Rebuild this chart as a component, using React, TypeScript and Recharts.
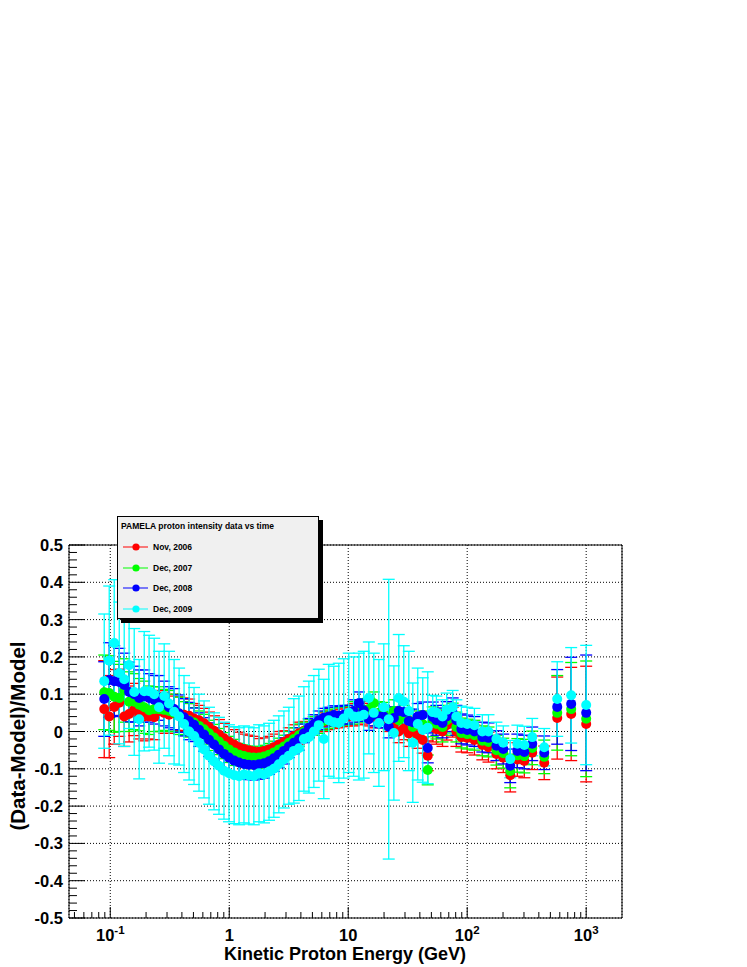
import React from 'react';
import {
  ScatterChart,
  Scatter,
  XAxis,
  YAxis,
  CartesianGrid,
  ErrorBar,
  ReferenceLine,
} from 'recharts';

// kinetic energy of each bin (GeV)
const energies = [
  0.089, 0.098, 0.108, 0.119, 0.131, 0.144, 0.159, 0.175, 0.193, 0.212,
  0.234, 0.257, 0.284, 0.312, 0.344, 0.379, 0.417, 0.46, 0.506, 0.557,
  0.614, 0.676, 0.745, 0.82, 0.903, 0.995, 1.1, 1.21, 1.33, 1.46,
  1.61, 1.78, 1.96, 2.16, 2.37, 2.61, 2.88, 3.17, 3.49, 3.85,
  4.24, 4.67, 5.14, 5.66, 6.23, 6.86, 7.56, 8.33, 9.17, 10.1,
  11.1, 12.3, 13.5, 14.9, 16.4, 18.1, 19.9, 21.9, 24.2, 26.6,
  29.3, 32.3, 34.9, 38.4, 42.3, 46.6,
  51.3, 55.1, 62.0, 67.2, 75.5, 81.1, 89.3, 100, 115, 134,
  151, 176, 201, 230, 264, 302, 352, 444, 571, 748, 1000,
];

// Nov, 2006
const novValues = [
  0.06, 0.04, 0.066, 0.077, 0.04, 0.047, 0.059, 0.045, 0.04, 0.04,
  0.038, 0.055, 0.05, 0.045, 0.05, 0.048, 0.045, 0.042, 0.035, 0.03,
  0.022, 0.012, 0.002, -0.008, -0.018, -0.027, -0.035, -0.042, -0.047, -0.05,
  -0.053, -0.054, -0.052, -0.048, -0.042, -0.035, -0.028, -0.02, -0.012, -0.005,
  0.002, 0.008, 0.015, 0.02, 0.025, 0.03, 0.033, 0.035, 0.038, 0.04,
  0.045, 0.048, 0.05, 0.045, 0.04, 0.048, 0.04, 0.03, 0.02, 0.0,
  0.008, -0.005, 0.01, -0.01, -0.023, -0.065,
  0.012, 0.006, 0.0, 0.017, 0.025, 0.0, -0.015, -0.017, -0.023, -0.036,
  -0.042, -0.06, -0.07, -0.117, -0.075, -0.079, -0.057, -0.084, 0.036, 0.047, 0.02,
];
const novErrors = [
  0.13, 0.11, 0.1, 0.09, 0.08, 0.075, 0.07, 0.065, 0.065, 0.06,
  0.06, 0.055, 0.055, 0.05, 0.05, 0.045, 0.045, 0.045, 0.04, 0.04,
  0.04, 0.04, 0.04, 0.04, 0.04, 0.04, 0.04, 0.04, 0.04, 0.04,
  0.04, 0.035, 0.035, 0.035, 0.035, 0.035, 0.03, 0.03, 0.03, 0.03,
  0.025, 0.025, 0.025, 0.025, 0.025, 0.025, 0.025, 0.025, 0.025, 0.025,
  0.03, 0.03, 0.03, 0.03, 0.03, 0.03, 0.03, 0.03, 0.03, 0.03,
  0.03, 0.035, 0.035, 0.035, 0.035, 0.04,
  0.04, 0.04, 0.04, 0.04, 0.04, 0.04, 0.04, 0.04, 0.04, 0.04,
  0.04, 0.04, 0.04, 0.045, 0.045, 0.045, 0.045, 0.045, 0.11, 0.125, 0.155,
];

// Dec, 2007
const dec07Values = [
  0.105, 0.103, 0.093, 0.09, 0.11, 0.08, 0.08, 0.072, 0.065, 0.057,
  0.06, 0.06, 0.058, 0.055, 0.05, 0.042, 0.035, 0.03, 0.024, 0.015,
  0.006, -0.005, -0.016, -0.027, -0.038, -0.048, -0.056, -0.062, -0.066, -0.069,
  -0.07, -0.07, -0.067, -0.062, -0.056, -0.048, -0.04, -0.03, -0.02, -0.01,
  0.0, 0.008, 0.015, 0.02, 0.028, 0.033, 0.038, 0.04, 0.042, 0.045,
  0.05, 0.055, 0.058, 0.06, 0.076, 0.05, 0.048, 0.035, 0.055, 0.03,
  0.04, 0.03, 0.012, 0.02, 0.02, -0.103,
  0.026, 0.02, 0.012, 0.03, 0.036, 0.012, -0.004, -0.007, -0.01, -0.025,
  -0.028, -0.05, -0.058, -0.106, -0.064, -0.066, -0.044, -0.068, 0.05, 0.06, 0.034,
];
const dec07Errors = [
  0.1, 0.1, 0.095, 0.09, 0.085, 0.08, 0.075, 0.07, 0.07, 0.065,
  0.06, 0.06, 0.055, 0.055, 0.05, 0.05, 0.045, 0.045, 0.04, 0.04,
  0.04, 0.035, 0.035, 0.035, 0.035, 0.035, 0.035, 0.03, 0.03, 0.03,
  0.03, 0.03, 0.03, 0.03, 0.03, 0.03, 0.03, 0.03, 0.03, 0.03,
  0.025, 0.025, 0.025, 0.025, 0.025, 0.025, 0.025, 0.025, 0.025, 0.025,
  0.03, 0.03, 0.03, 0.03, 0.03, 0.03, 0.03, 0.03, 0.03, 0.03,
  0.03, 0.03, 0.035, 0.035, 0.035, 0.04,
  0.04, 0.04, 0.04, 0.04, 0.04, 0.04, 0.04, 0.04, 0.04, 0.04,
  0.04, 0.04, 0.04, 0.045, 0.045, 0.045, 0.045, 0.045, 0.1, 0.125, 0.155,
];

// Dec, 2008
const dec08Values = [
  0.087, 0.138, 0.135, 0.133, 0.125, 0.106, 0.1, 0.09, 0.095, 0.09,
  0.085, 0.09, 0.075, 0.065, 0.06, 0.048, 0.038, 0.028, 0.018, 0.005,
  -0.008, -0.022, -0.035, -0.048, -0.06, -0.07, -0.078, -0.083, -0.087, -0.089,
  -0.09, -0.088, -0.085, -0.08, -0.072, -0.062, -0.052, -0.04, -0.03, -0.02,
  -0.005, 0.01, 0.02, 0.03, 0.037, 0.04, 0.044, 0.042, 0.045, 0.045,
  0.055, 0.076, 0.057, 0.033, 0.045, 0.04, 0.04, 0.013, 0.036, 0.055,
  0.052, 0.028, 0.025, 0.04, 0.044, -0.044,
  0.039, 0.03, 0.023, 0.04, 0.05, 0.03, 0.007, 0.004, 0.0, -0.015,
  -0.017, -0.038, -0.047, -0.092, -0.052, -0.055, -0.033, -0.057, 0.066, 0.074, 0.05,
];
const dec08Errors = [
  0.1, 0.1, 0.095, 0.09, 0.085, 0.08, 0.075, 0.075, 0.07, 0.065,
  0.065, 0.06, 0.06, 0.055, 0.055, 0.05, 0.05, 0.05, 0.045, 0.045,
  0.045, 0.045, 0.045, 0.045, 0.045, 0.045, 0.045, 0.04, 0.04, 0.04,
  0.04, 0.04, 0.04, 0.035, 0.035, 0.035, 0.035, 0.03, 0.03, 0.03,
  0.025, 0.025, 0.025, 0.025, 0.025, 0.025, 0.025, 0.025, 0.025, 0.025,
  0.03, 0.03, 0.03, 0.03, 0.03, 0.03, 0.03, 0.03, 0.03, 0.03,
  0.03, 0.03, 0.035, 0.035, 0.035, 0.04,
  0.04, 0.04, 0.04, 0.04, 0.04, 0.04, 0.04, 0.04, 0.04, 0.04,
  0.04, 0.04, 0.04, 0.045, 0.045, 0.045, 0.045, 0.045, 0.1, 0.125, 0.155,
];

// Dec, 2009
const dec09Values = [
  0.135, 0.19, 0.237, 0.157, 0.14, 0.178, 0.106, 0.033, 0.108, 0.108,
  0.1, 0.065, 0.095, 0.075, 0.053, 0.04, 0.02, 0.0, -0.012, -0.03,
  -0.048, -0.065, -0.08, -0.092, -0.105, -0.112, -0.117, -0.12, -0.115, -0.118,
  -0.12, -0.112, -0.115, -0.108, -0.1, -0.088, -0.075, -0.065, -0.052, -0.045,
  -0.02, -0.015, 0.0, 0.017, -0.02, 0.03, 0.025, 0.023, 0.035, 0.05,
  0.04, 0.04, 0.045, 0.09, 0.05, 0.023, 0.065, 0.033, -0.004, 0.09,
  0.08, 0.055, -0.03, 0.02, 0.004, 0.01,
  0.052, 0.05, 0.04, 0.058, 0.065, 0.04, 0.023, 0.02, 0.017, 0.0,
  0.0, -0.02, -0.03, -0.074, -0.033, -0.036, -0.015, -0.042, 0.087, 0.097, 0.071,
];
const dec09Errors = [
  0.18, 0.2, 0.17, 0.19, 0.18, 0.17, 0.17, 0.16, 0.16, 0.15,
  0.15, 0.15, 0.14, 0.14, 0.14, 0.13, 0.13, 0.13, 0.13, 0.13,
  0.13, 0.13, 0.13, 0.13, 0.13, 0.13, 0.13, 0.13, 0.13, 0.13,
  0.13, 0.13, 0.13, 0.13, 0.13, 0.13, 0.13, 0.13, 0.14, 0.14,
  0.14, 0.15, 0.15, 0.15, 0.16, 0.15, 0.15, 0.16, 0.16, 0.16,
  0.16, 0.17, 0.17, 0.15, 0.16, 0.17, 0.17, 0.375, 0.18, 0.17,
  0.15, 0.16, 0.16, 0.15, 0.14, 0.15,
  0.045, 0.045, 0.045, 0.045, 0.045, 0.045, 0.045, 0.045, 0.045, 0.045,
  0.045, 0.045, 0.045, 0.05, 0.05, 0.05, 0.05, 0.05, 0.1, 0.128, 0.16,
];

const xTicks = [0.1, 1, 10, 100, 1000];
const yTicks = [-0.5, -0.4, -0.3, -0.2, -0.1, 0, 0.1, 0.2, 0.3, 0.4, 0.5];

// log minor ticks 2..9 in every decade, plus the partial decade at the left edge
const xMinorTicks: number[] = [0.05, 0.06, 0.07, 0.08, 0.09];
[0.1, 1, 10, 100].forEach((d) => {
  for (let k = 2; k <= 9; k++) xMinorTicks.push(+(d * k).toPrecision(3));
});
const yMinorTicks: number[] = [];
for (let i = -25; i <= 25; i++) {
  if (i % 5 !== 0) yMinorTicks.push(+(i * 0.02).toFixed(2));
}

const series = [
  { name: 'Nov, 2006', color: '#ff0000', values: novValues, errors: novErrors },
  { name: 'Dec, 2007', color: '#00ff00', values: dec07Values, errors: dec07Errors },
  { name: 'Dec, 2008', color: '#0000ff', values: dec08Values, errors: dec08Errors },
  { name: 'Dec, 2009', color: '#00ffff', values: dec09Values, errors: dec09Errors },
];

const FONT = '"Liberation Sans", Arial, Helvetica, sans-serif';
const W = 747;
const H = 967;
const X_DOMAIN: [number, number] = [0.045, 2000];
const Y_DOMAIN: [number, number] = [-0.5, 0.5];

// tick lengths expressed in axis units (plot is 373px tall, 119.25px per decade)
const X_MAJOR_LEN = 11 / 373;
const X_MINOR_LEN = 6 / 373;
const Y_MAJOR_END = X_DOMAIN[0] * Math.pow(10, 16 / 119.25);
const Y_MINOR_END = X_DOMAIN[0] * Math.pow(10, 8 / 119.25);

// eslint-disable-next-line @typescript-eslint/no-explicit-any
const XTickLabel = ({ x, y, payload }: any) => {
  const exp = Math.round(Math.log10(payload.value));
  const common = {
    x,
    y: y + 23,
    textAnchor: 'middle' as const,
    fontFamily: FONT,
    fontWeight: 700,
    fontSize: 16.5,
    fill: '#000',
  };
  if (exp === 0) return <text {...common}>1</text>;
  if (exp === 1) return <text {...common}>10</text>;
  return (
    <text {...common}>
      <tspan>10</tspan>
      <tspan dy={-7} fontSize={11.5}>{exp}</tspan>
    </text>
  );
};

// eslint-disable-next-line @typescript-eslint/no-explicit-any
const YTickLabel = ({ x, y, payload }: any) => {
  const v = payload.value as number;
  const label = v === 0 ? '0' : v.toFixed(1);
  return (
    <text
      x={x - 6}
      y={y + 6}
      textAnchor="end"
      fontFamily={FONT}
      fontWeight={700}
      fontSize={16.5}
      fill="#000"
    >
      {label}
    </text>
  );
};

const makeDot = (color: string) =>
  // eslint-disable-next-line @typescript-eslint/no-explicit-any
  (props: any) => <circle cx={props.cx} cy={props.cy} r={5} fill={color} />;

function PamelaLegend() {
  const rows = [30, 51, 71, 92];
  return (
    <div
      style={{
        position: 'absolute',
        left: 117,
        top: 516,
        width: 202,
        height: 103,
        boxSizing: 'border-box',
        border: '1px solid #000',
        background: '#f0f0f0',
        boxShadow: '4px 4px 0 #000',
      }}
    >
      <svg width={200} height={101} style={{ display: 'block' }}>
        <text x={3} y={12} fontFamily={FONT} fontWeight={700} fontSize={8.5} fill="#000">
          PAMELA proton intensity data vs time
        </text>
        {series.map((s, i) => (
          <g key={s.name}>
            <line x1={5} x2={30} y1={rows[i]} y2={rows[i]} stroke={s.color} strokeWidth={1} />
            <circle cx={18} cy={rows[i]} r={3.6} fill={s.color} />
            <text x={35} y={rows[i] + 3} fontFamily={FONT} fontWeight={700} fontSize={8.5} fill="#000">
              {s.name}
            </text>
          </g>
        ))}
      </svg>
    </div>
  );
}

export default function App() {
  const datasets = series.map((s) =>
    energies.map((e, i) => ({ e, y: s.values[i], err: s.errors[i] }))
  );

  return (
    <div style={{ position: 'relative', width: W, height: H, overflow: 'hidden' }}>
      <style>{'html,body{margin:0;padding:0;overflow:hidden;}'}</style>
      <ScatterChart
        width={W}
        height={H}
        margin={{ top: 545, right: 125, bottom: 0, left: 0 }}
      >
        <CartesianGrid stroke="#000" strokeDasharray="1 2" />
        <XAxis
          dataKey="e"
          type="number"
          scale="log"
          domain={X_DOMAIN}
          allowDataOverflow
          ticks={xTicks}
          interval={0}
          height={49}
          tickSize={0}
          tickMargin={0}
          tickLine={false}
          axisLine={{ stroke: '#000' }}
          tick={XTickLabel}
        />
        <YAxis
          dataKey="y"
          type="number"
          domain={Y_DOMAIN}
          allowDataOverflow
          ticks={yTicks}
          interval={0}
          width={69}
          tickSize={0}
          tickMargin={0}
          tickLine={false}
          axisLine={{ stroke: '#000' }}
          tick={YTickLabel}
        />
        {/* inward tick marks of the bottom axis */}
        {xTicks.map((t) => (
          <ReferenceLine key={`xM${t}`} ifOverflow="visible" stroke="#000"
            segment={[{ x: t, y: -0.5 }, { x: t, y: -0.5 + X_MAJOR_LEN }]} />
        ))}
        {xMinorTicks.map((t) => (
          <ReferenceLine key={`xm${t}`} ifOverflow="visible" stroke="#000"
            segment={[{ x: t, y: -0.5 }, { x: t, y: -0.5 + X_MINOR_LEN }]} />
        ))}
        {/* inward tick marks of the left axis */}
        {yTicks.map((t) => (
          <ReferenceLine key={`yM${t}`} ifOverflow="visible" stroke="#000"
            segment={[{ x: X_DOMAIN[0], y: t }, { x: Y_MAJOR_END, y: t }]} />
        ))}
        {yMinorTicks.map((t) => (
          <ReferenceLine key={`ym${t}`} ifOverflow="visible" stroke="#000"
            segment={[{ x: X_DOMAIN[0], y: t }, { x: Y_MINOR_END, y: t }]} />
        ))}
        {/* frame top and right */}
        <ReferenceLine y={0.5} stroke="#000" />
        <ReferenceLine x={2000} stroke="#000" ifOverflow="visible" />
        {series.map((s, i) => (
          <Scatter
            key={s.name}
            name={s.name}
            data={datasets[i]}
            fill={s.color}
            shape={makeDot(s.color)}
            isAnimationActive={false}
          >
            <ErrorBar dataKey="err" direction="y" width={6} stroke={s.color} strokeWidth={1.3} />
          </Scatter>
        ))}
      </ScatterChart>

      <svg
        width={W}
        height={H}
        style={{ position: 'absolute', left: 0, top: 0, pointerEvents: 'none' }}
      >
        <text
          x={345}
          y={960}
          textAnchor="middle"
          fontFamily={FONT}
          fontWeight={700}
          fontSize={18}
          fill="#000"
        >
          Kinetic Proton Energy (GeV)
        </text>
        <text
          transform="translate(17, 736) rotate(-90)"
          textAnchor="middle"
          dominantBaseline="central"
          fontFamily={FONT}
          fontWeight={700}
          fontSize={20.5}
          fill="#000"
        >
          (Data-Model)/Model
        </text>
      </svg>

      <PamelaLegend />
    </div>
  );
}
